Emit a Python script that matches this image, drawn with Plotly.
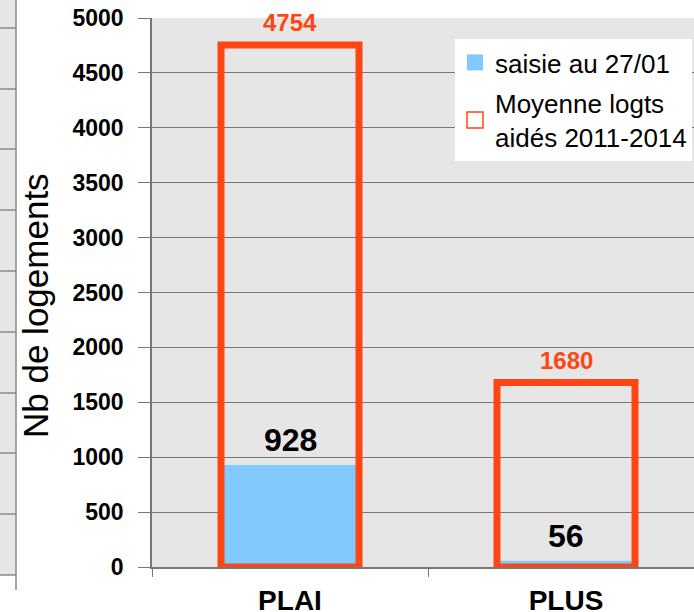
import plotly.graph_objects as go

categories = ["PLAI", "PLUS"]
saisie = [928, 56]
moyenne = [4754, 1680]
y_ticks = [0, 500, 1000, 1500, 2000, 2500, 3000, 3500, 4000, 4500, 5000]

ORANGE = "#ff4513"
BLUE = "#82c9ff"
FONT = "Liberation Sans, Arial, sans-serif"

W, H = 694, 612
L, R, T, B = 152, 0, 18, 612 - 567
pw, ph = W - L - R, H - T - B

def px_x(p):  # window pixel -> paper
    return (p - L) / pw

def px_y(p):
    return (H - B - p) / ph

fig = go.Figure()
fig.add_trace(go.Bar(
    x=categories, y=saisie, name="saisie au 27/01", width=0.5, legendgroup="a",
    marker=dict(color=BLUE, line=dict(width=0)), cliponaxis=False,
))
fig.add_trace(go.Bar(
    x=categories, y=moyenne, name="Moyenne logts<br>aidés 2011-2014", width=0.5,
    legendgroup="b",
    marker=dict(color="rgba(0,0,0,0)", line=dict(color=ORANGE, width=7)),
    cliponaxis=False,
))

annotations = []
for c, v in zip(categories, moyenne):
    annotations.append(dict(x=c, y=v, xref="x", yref="y", text=str(v), showarrow=False,
                            yanchor="bottom", yshift=7,
                            font=dict(family=FONT, size=24, color=ORANGE, weight="bold")))
for c, v in zip(categories, saisie):
    annotations.append(dict(x=c, y=v, xref="x", yref="y", text=str(v), showarrow=False,
                            yanchor="bottom", yshift=5,
                            font=dict(family=FONT, size=32, color="black", weight="bold")))
# y axis title
annotations.append(dict(x=px_x(35), y=px_y(306), xref="paper", yref="paper",
                        text="Nb de logements", textangle=-90, showarrow=False,
                        xanchor="center", yanchor="middle",
                        font=dict(family=FONT, size=35, color="black")))

# remnant of neighbouring chart at left edge
shapes = [dict(type="rect", xref="paper", yref="paper",
               x0=px_x(0), x1=px_x(16), y0=px_y(575), y1=px_y(0),
               fillcolor="#e6e6e6", line=dict(width=0), layer="below")]
for yy in [28, 89, 149, 210, 271, 332, 393, 453, 514, 575]:
    shapes.append(dict(type="line", xref="paper", yref="paper",
                       x0=px_x(0), x1=px_x(16), y0=px_y(yy), y1=px_y(yy),
                       line=dict(color="#8a8a8a", width=1.5)))
shapes.append(dict(type="line", xref="paper", yref="paper",
                   x0=px_x(16), x1=px_x(16), y0=px_y(590), y1=px_y(0),
                   line=dict(color="#8a8a8a", width=1.5)))

fig.update_layout(
    width=W, height=H,
    margin=dict(l=L, r=R, t=T, b=B, pad=0, autoexpand=False),
    barmode="overlay",
    paper_bgcolor="white",
    plot_bgcolor="#e6e6e6",
    font=dict(family=FONT, color="black"),
    showlegend=True,
    legend=dict(x=px_x(455), y=px_y(39), xanchor="left", yanchor="top",
                bgcolor="white", borderwidth=0,
                font=dict(family=FONT, size=26, color="black"),
                tracegroupgap=4),
    annotations=annotations,
    shapes=shapes,
    xaxis=dict(type="category", range=[-0.5, -0.5 + pw / 276.0], automargin=False,
               showgrid=False, showline=True, linecolor="#777777", linewidth=1.5,
               ticks="outside", ticklen=8, tickcolor="#777777", tickson="boundaries",
               tickfont=dict(family=FONT, size=28, weight="bold", color="black"),
               ticklabelstandoff=8, ticklabeloverflow="allow"),
    yaxis=dict(range=[0, 5000], tickvals=y_ticks, automargin=False,
               showgrid=True, gridcolor="#777777", gridwidth=1,
               zeroline=False, showline=True, linecolor="#777777", linewidth=1.5,
               ticks="outside", ticklen=12, tickcolor="#777777",
               tickfont=dict(family=FONT, size=23, weight="bold", color="black"),
               ticklabelstandoff=10, ticklabeloverflow="allow"),
)

fig.write_html(
    "out.html",
    config={"displayModeBar": False},
    post_script=(
        "document.body.style.margin='0';document.body.style.overflow='hidden';"
        "var lp=document.querySelectorAll('.legend .traces .legendpoints path');"
        "lp.forEach(function(p){p.setAttribute('d','M8,8H-8V-8H8Z');});"
        "if(lp.length>1){lp[1].style.strokeWidth='1.5px';}"
    ),
)
